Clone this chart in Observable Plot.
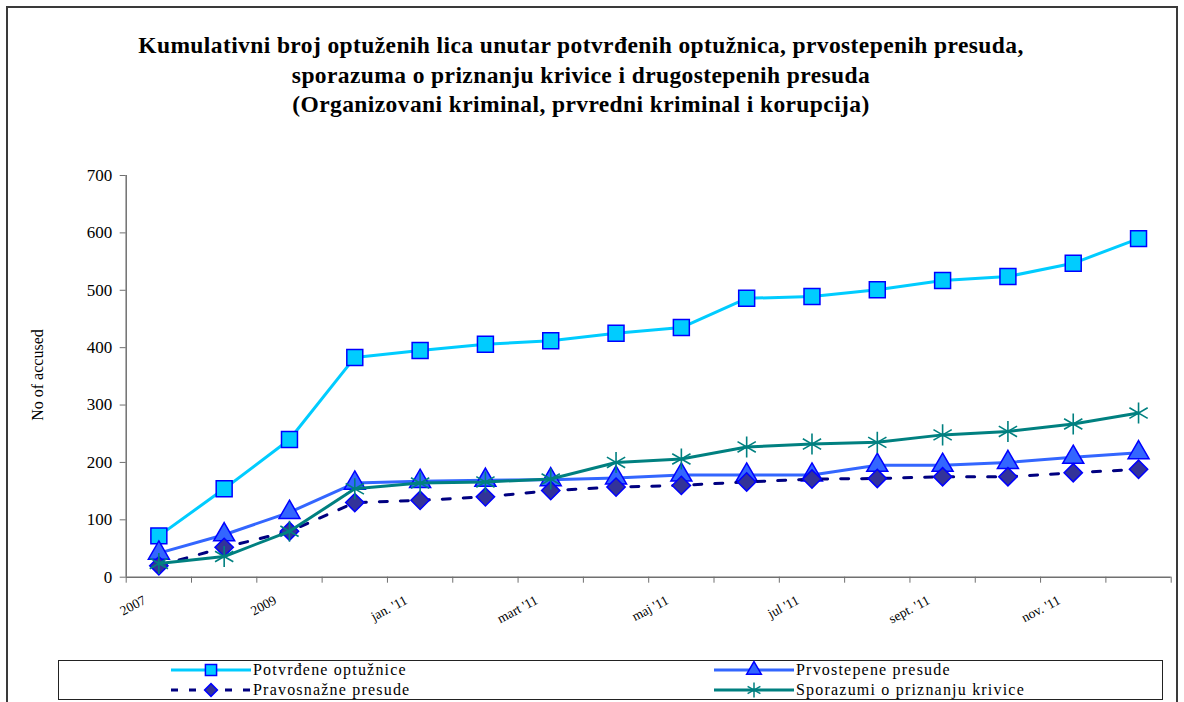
<!DOCTYPE html>
<html><head><meta charset="utf-8">
<script src="https://cdn.jsdelivr.net/npm/d3@7"></script>
<script src="https://cdn.jsdelivr.net/npm/@observablehq/plot@0.6"></script>
<style>
body{margin:0;background:#fff;}
#wrap{position:relative;width:1184px;height:702px;overflow:hidden;font-family:"Liberation Serif","Times New Roman",serif;color:#000;}
#border{position:absolute;left:6px;top:6px;width:1172px;height:730px;border:2px solid #3a3a3a;box-sizing:border-box;}
#chart{position:absolute;left:0;top:0;}
#title{position:absolute;left:0;width:1162px;top:31px;text-align:center;font-weight:bold;font-size:23.5px;letter-spacing:0.4px;line-height:29.5px;}
#ylab{position:absolute;left:38px;top:375px;transform:translate(-50%,-50%) rotate(-90deg);font-size:16px;white-space:nowrap;}
#legend{position:absolute;left:58px;top:660px;width:1105px;height:40px;border:1px solid #222;box-sizing:border-box;}
.li{position:absolute;display:flex;align-items:center;height:20px;font-size:16px;letter-spacing:1.2px;white-space:nowrap;}
.li svg{margin-right:2px;}
</style></head>
<body>
<div id="wrap">
  <div id="border"></div>
  <div id="chart"></div>
  <div id="title">Kumulativni broj optuženih lica unutar potvrđenih optužnica, prvostepenih presuda,<br>sporazuma o priznanju krivice i drugostepenih presuda<br>(Organizovani kriminal, prvredni kriminal i korupcija)</div>
  <div id="ylab">No of accused</div>
  <div id="legend"></div>
</div>
<script>
const categories = ["2007","2008","2009","2010","jan. '11","feb. '11","mart '11","apr. '11","maj '11","jun. '11","jul '11","avg. '11","sept. '11","okt. '11","nov. '11","dec. '11"];
const potvrdjene  = [72,154,240,383,395,406,412,425,435,486,489,501,517,524,547,590];
const prvostepene = [42,74,113,164,167,169,170,173,178,178,178,195,195,200,209,217];
const pravosnazne = [20,52,80,130,134,140,151,157,160,166,171,172,175,175,182,188];
const sporazumi   = [24,36,80,154,164,166,171,200,206,227,232,235,248,254,267,286];
const yTicks = [0,100,200,300,400,500,600,700];
const seriesNames = ["Potvrđene optužnice","Prvostepene presude","Pravosnažne presude","Sporazumi o priznanju krivice"];

const seriesValues = [potvrdjene, prvostepene, pravosnazne, sporazumi];
const styles = [
  {line:{stroke:"#00CCFF", strokeWidth:3}, dot:{symbol:"square", r:9, fill:"#00CCFF", stroke:"#0000FF", strokeWidth:1.5}},
  {line:{stroke:"#3366FF", strokeWidth:3}, dot:{symbol:"triangle", r:7.8, fill:"#3366FF", stroke:"#0000FF", strokeWidth:1.5}},
  {line:{stroke:"#000080", strokeWidth:3, strokeDasharray:"8,13"}, dot:{symbol:"square", rotate:45, r:7.3, fill:"#333399", stroke:"#0000FF", strokeWidth:1.5}},
  {line:{stroke:"#008080", strokeWidth:3}, dot:{symbol:"asterisk", r:10, stroke:"#008080", strokeWidth:1.6}}
];
const tables = seriesValues.map((vals, s) => vals.map((v, i) => ({i, v, s: seriesNames[s]})));
const boundaries = d3.range(categories.length + 1).map(i => i - 0.5);
const labelIdx = d3.range(0, categories.length, 2);

const marks = [
  Plot.axisY({ticks: yTicks, tickSize: 6, tickPadding: 8, fontSize: 17, label: null, stroke: "#707070", fill: "#000"}),
  Plot.axisX({ticks: boundaries, tickSize: 6, tickFormat: () => "", label: null, stroke: "#707070"}),
  Plot.axisX({ticks: labelIdx, tickSize: 0, tickFormat: i => categories[i], tickRotate: -28, tickPadding: 22, dx: -14, fontSize: 13.5, label: null, fill: "#000"}),
  Plot.ruleY([0], {stroke: "#707070", strokeWidth: 1.5}),
  Plot.ruleX([-0.5], {stroke: "#707070", strokeWidth: 1.5})
];
tables.forEach((t, s) => {
  marks.push(Plot.line(t, {x: "i", y: "v", ...styles[s].line}));
  marks.push(Plot.dot(t, {x: "i", y: "v", ...styles[s].dot}));
});

const chart = Plot.plot({
  width: 1184, height: 702,
  marginTop: 175, marginBottom: 125.3, marginLeft: 125.7, marginRight: 13.3,
  x: {type: "linear", domain: [-0.5, categories.length - 0.5]},
  y: {domain: [0, 700]},
  style: {fontFamily: "'Liberation Serif','Times New Roman',serif", background: "transparent", color: "#000"},
  marks
});
document.getElementById("chart").appendChild(chart);

// legend
const legend = document.getElementById("legend");
const pos = [[112, 2], [655, 2], [112, 22], [655, 22]];
function swatch(s) {
  const st = styles[s];
  const ns = "http://www.w3.org/2000/svg";
  const svg = document.createElementNS(ns, "svg");
  svg.setAttribute("width", 80); svg.setAttribute("height", 20);
  const ln = document.createElementNS(ns, "line");
  ln.setAttribute("x1", 0); ln.setAttribute("x2", 80); ln.setAttribute("y1", 10); ln.setAttribute("y2", 10);
  ln.setAttribute("stroke", st.line.stroke); ln.setAttribute("stroke-width", 3);
  if (st.line.strokeDasharray) ln.setAttribute("stroke-dasharray", "7,11");
  svg.appendChild(ln);
  const sym = {square: d3.symbolSquare, triangle: d3.symbolTriangle, asterisk: d3.symbolAsterisk}[st.dot.symbol];
  const r = st.dot.r * 0.7;
  const p = document.createElementNS(ns, "path");
  p.setAttribute("d", d3.symbol(sym, Math.PI * r * r)());
  p.setAttribute("transform", `translate(40,10) rotate(${st.dot.rotate || 0})`);
  p.setAttribute("fill", st.dot.fill || "none");
  p.setAttribute("stroke", st.dot.stroke);
  p.setAttribute("stroke-width", 1.5);
  svg.appendChild(p);
  return svg;
}
seriesNames.forEach((name, s) => {
  const d = document.createElement("div");
  d.className = "li";
  d.style.left = pos[s][0] + "px";
  d.style.top = pos[s][1] - 3 + "px";
  d.appendChild(swatch(s));
  const sp = document.createElement("span");
  sp.textContent = name;
  d.appendChild(sp);
  legend.appendChild(d);
});
</script>
</body></html>
